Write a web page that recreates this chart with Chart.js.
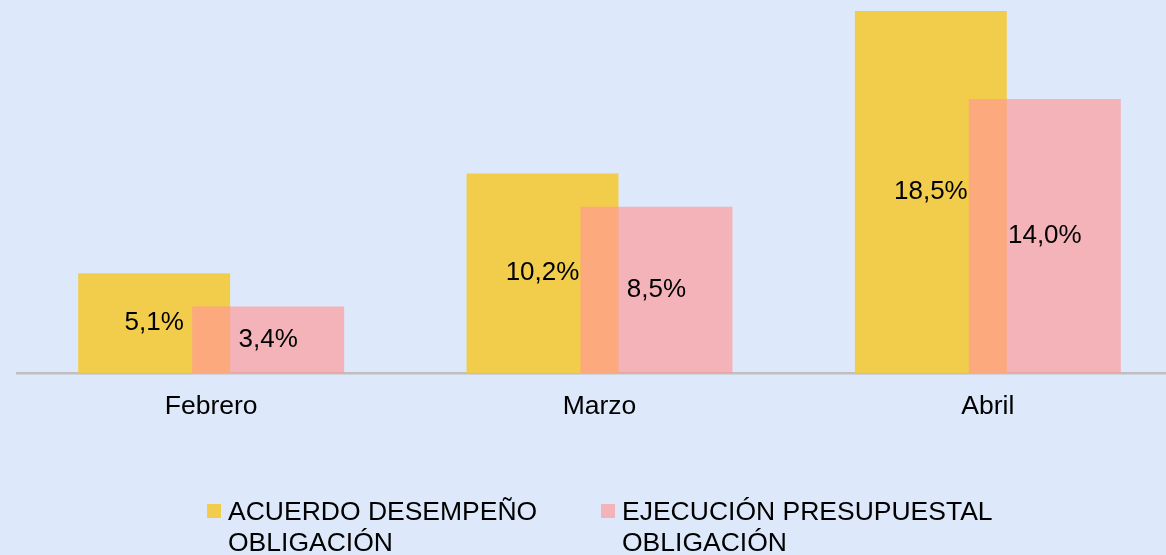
<!DOCTYPE html>
<html>
<head>
<meta charset="utf-8">
<script src="https://cdn.jsdelivr.net/npm/chart.js@4"></script>
<style>
  html, body { margin: 0; padding: 0; background: #dde9fa; overflow: hidden; }
  #wrap { width: 1182px; height: 555px; }
  canvas { display: block; }
</style>
</head>
<body>
<div id="wrap"><canvas id="c" width="1182" height="555"></canvas></div>
<script>
const categories = ['Febrero', 'Marzo', 'Abril'];
const acuerdoDesempeno = [5.1, 10.2, 18.5];
const ejecucionPresupuestal = [3.4, 8.5, 14.0];
const seriesLabels = [
  ['ACUERDO DESEMPEÑO', 'OBLIGACIÓN'],
  ['EJECUCIÓN PRESUPUESTAL', 'OBLIGACIÓN']
];

const FONT = "'Liberation Sans', Arial, sans-serif";
const YELLOW = '#f2cd4c';
const PINK = 'rgba(255, 151, 150, 0.66)';
const PINK_SWATCH = '#f4b3b8';

const fmt = v => v.toFixed(1).replace('.', ',') + '%';

// The second series is painted over the first (its translucent bars overlap),
// then the value labels are centred in each bar.
const overlayAndLabels = {
  id: 'overlayAndLabels',
  beforeDatasetDraw(chart, args) {
    if (args.index === 1) return false;
  },
  afterDatasetsDraw(chart) {
    const ctx = chart.ctx;
    const area = chart.chartArea;
    ctx.save();
    ctx.beginPath();
    ctx.rect(area.left, area.top, area.right - area.left, area.bottom - area.top);
    ctx.clip();
    chart.getDatasetMeta(1).controller.draw();
    ctx.restore();

    ctx.save();
    ctx.font = '26px ' + FONT;
    ctx.fillStyle = '#000';
    ctx.textAlign = 'center';
    ctx.textBaseline = 'middle';
    chart.data.datasets.forEach((ds, i) => {
      chart.getDatasetMeta(i).data.forEach((bar, j) => {
        const y = (bar.y + bar.base) / 2;
        ctx.fillText(fmt(ds.data[j]), bar.x, y);
      });
    });
    ctx.restore();
  }
};

// Two-line legend under the axis
const bottomLegend = {
  id: 'bottomLegend',
  afterDraw(chart) {
    const ctx = chart.ctx;
    const starts = [207, 601];
    const swatches = [YELLOW, PINK_SWATCH];
    ctx.save();
    ctx.font = '26.5px ' + FONT;
    ctx.textAlign = 'left';
    ctx.textBaseline = 'alphabetic';
    seriesLabels.forEach((lines, i) => {
      const x = starts[i];
      ctx.fillStyle = swatches[i];
      ctx.fillRect(x, 504, 14, 14);
      ctx.fillStyle = '#000';
      lines.forEach((t, k) => ctx.fillText(t, x + 21, 520 + k * 31));
    });
    ctx.restore();
  }
};

new Chart(document.getElementById('c'), {
  type: 'bar',
  data: {
    labels: categories,
    datasets: [
      {
        label: seriesLabels[0].join(' '),
        data: acuerdoDesempeno,
        backgroundColor: YELLOW,
        borderWidth: 0,
        categoryPercentage: 0.587,
        barPercentage: 1.333
      },
      {
        label: seriesLabels[1].join(' '),
        data: ejecucionPresupuestal,
        backgroundColor: PINK,
        borderWidth: 0,
        categoryPercentage: 0.587,
        barPercentage: 1.333
      }
    ]
  },
  options: {
    responsive: false,
    animation: false,
    devicePixelRatio: 1,
    layout: { padding: { left: 17, right: 0, top: 0, bottom: 122 } },
    plugins: {
      legend: { display: false },
      tooltip: { enabled: false }
    },
    scales: {
      x: {
        z: 1,
        grid: { display: false, drawTicks: false },
        border: { display: true, color: '#bfbfbf', width: 2.5 },
        ticks: {
          color: '#000',
          font: { family: FONT, size: 26.5 },
          padding: 18,
          maxRotation: 0
        },
        afterFit(scale) { scale.height = 60; }
      },
      y: {
        display: false,
        min: 0,
        max: 19.06
      }
    }
  },
  plugins: [overlayAndLabels, bottomLegend]
});
</script>
</body>
</html>
